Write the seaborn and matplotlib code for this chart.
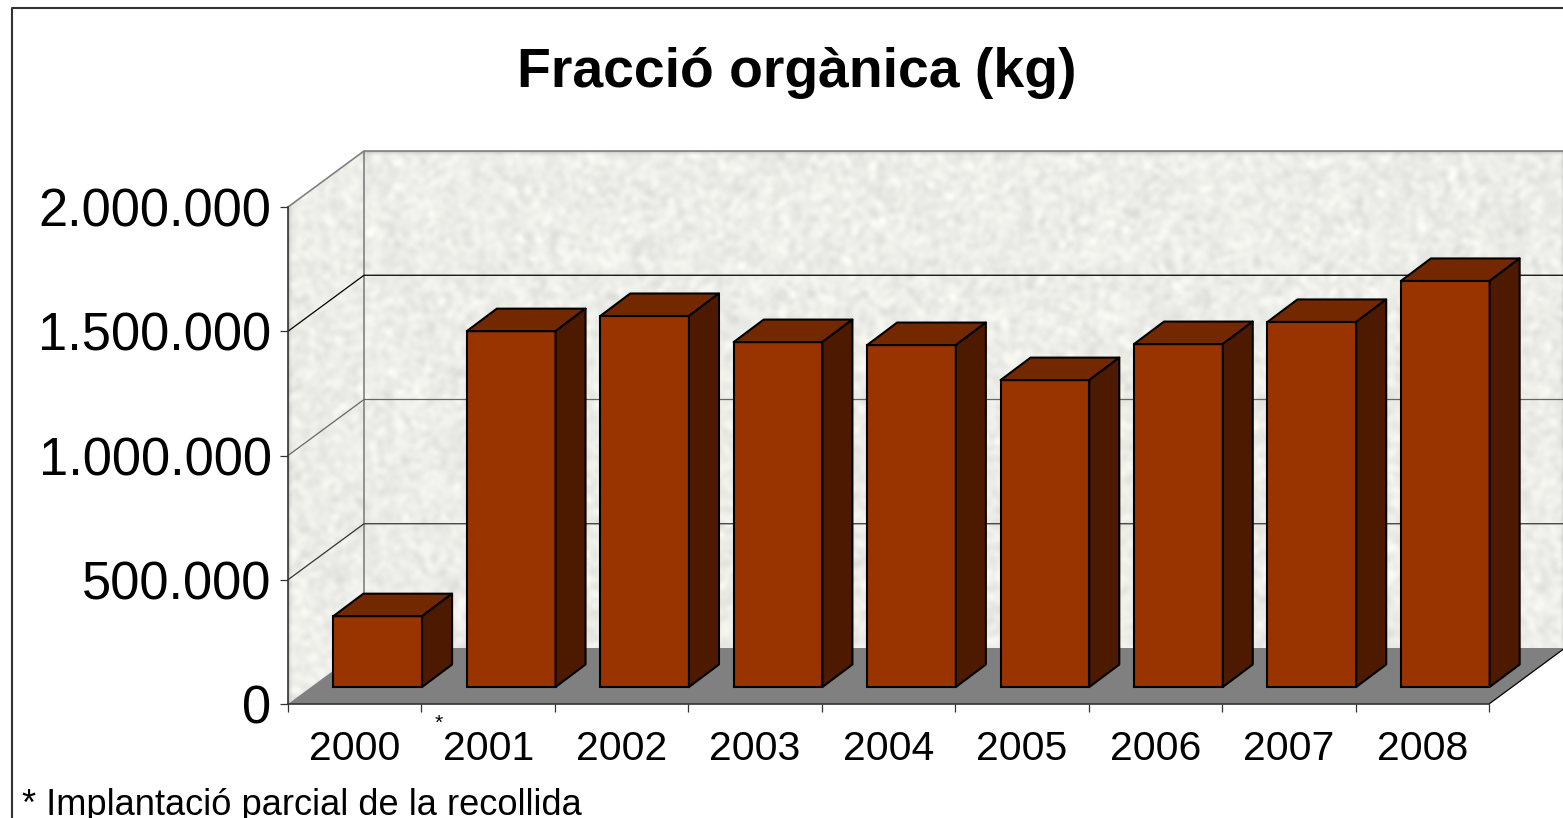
import numpy as np
import matplotlib
matplotlib.use("Agg")
import matplotlib.pyplot as plt
from matplotlib.patches import Polygon
from matplotlib.lines import Line2D
import seaborn as sns

years = ["2000", "2001", "2002", "2003", "2004", "2005", "2006", "2007", "2008"]
organic_kg = [285000, 1432000, 1493000, 1388000, 1376000, 1235000, 1380000, 1469000, 1634000]
y_ticks = [0, 500000, 1000000, 1500000, 2000000]
y_tick_labels = ["0", "500.000", "1.000.000", "1.500.000", "2.000.000"]
title = "Fracció orgànica (kg)"
footnote = "* Implantació parcial de la recollida"

W, H = 1563, 818
FRONT = "#993300"
TOP = "#732800"
SIDE = "#4D1A00"
FLOOR = "#808080"
WALL_EDGE = "#808080"
grid_colors = ["#333333", "#666666", "#000000"]

sns.set_style("white")
plt.rcParams["font.family"] = ["Liberation Sans", "DejaVu Sans"]

fig = plt.figure(figsize=(W / 100, H / 100), dpi=100, facecolor="white")
ax = fig.add_axes([288 / W, (H - 704) / H, (1489 - 288) / W, (704 - 207) / H])

sns.barplot(x=years, y=organic_kg, color=FRONT, saturation=1, width=0.665,
            edgecolor="black", linewidth=1.5, ax=ax, zorder=3)
ax.set_xlim(-0.5, 8.5)
ax.set_ylim(0, 2000000)

# pixel to data scale, used for the fake 3d depth
px_x = 9 / (1489 - 288)
px_y = 2000000 / (704 - 207)
wall_dx, wall_dy = 76 * px_x, 56 * px_y
shift_x, shift_y = 23 * px_x, 17 * px_y
bar_dx, bar_dy = 30 * px_x, 22.5 * px_y

x0, x1 = -0.5, 8.5
y_top = y_ticks[-1]

# wall grain, only a texture and not chart data
ny, nx = 560, 1290
yy, xx = np.mgrid[0:ny, 0:nx]
grain = np.sin(xx * 12.9898 + yy * 78.233) * 43758.5453
grain = grain - np.floor(grain)
for size in (7, 5, 3):
    kernel = np.ones(size) / size
    grain = np.apply_along_axis(lambda r: np.convolve(r, kernel, mode="same"), 1, grain)
    grain = np.apply_along_axis(lambda c: np.convolve(c, kernel, mode="same"), 0, grain)
grain = (grain - grain.mean()) / grain.std()
gray = np.clip(0.93 + 0.024 * grain, 0, 1)
texture = np.dstack([gray, gray, gray * 0.98])

wall_pts = [(x0, 0), (x0, y_top), (x0 + wall_dx, y_top + wall_dy), (x1 + wall_dx, y_top + wall_dy),
            (x1 + wall_dx, wall_dy), (x0 + wall_dx, wall_dy)]
img = ax.imshow(texture, aspect="auto", zorder=0,
                extent=(x0, x1 + wall_dx, 0, y_top + wall_dy), interpolation="bilinear")
img.set_clip_box(fig.bbox)
img.set_clip_path(Polygon(wall_pts, transform=ax.transData))
ax.set_xlim(x0, x1)
ax.set_ylim(0, y_top)

floor = Polygon([(x0, 0), (x1, 0), (x1 + wall_dx, wall_dy), (x0 + wall_dx, wall_dy)],
                facecolor=FLOOR, edgecolor="none", zorder=1, clip_on=False)
ax.add_patch(floor)
ax.plot([x1, x1 + wall_dx], [0, wall_dy], color="black", lw=0.9, zorder=1.5, clip_on=False)

ax.plot([x0, x0 + wall_dx, x1 + wall_dx], [y_top, y_top + wall_dy, y_top + wall_dy],
        color=WALL_EDGE, lw=1.2, zorder=1.5, clip_on=False)
ax.plot([x0 + wall_dx, x0 + wall_dx], [wall_dy, y_top + wall_dy],
        color=WALL_EDGE, lw=1.2, zorder=1.5, clip_on=False)
for v, c in zip(y_ticks[1:-1], grid_colors):
    ax.plot([x0, x0 + wall_dx, x1 + wall_dx], [v, v + wall_dy, v + wall_dy],
            color=c, lw=0.9, zorder=1.5, clip_on=False)

# move the seaborn bars onto the floor and add their top and side faces
for bar in list(ax.patches):
    if bar is floor:
        continue
    bar.set_x(bar.get_x() + shift_x)
    bar.set_y(shift_y)
    left = bar.get_x()
    right = left + bar.get_width()
    base = bar.get_y()
    top = base + bar.get_height()
    ax.add_patch(Polygon([(left, top), (right, top), (right + bar_dx, top + bar_dy), (left + bar_dx, top + bar_dy)],
                         facecolor=TOP, edgecolor="black", lw=1.5, zorder=3, clip_on=False, joinstyle="round"))
    ax.add_patch(Polygon([(right, base), (right + bar_dx, base + bar_dy), (right + bar_dx, top + bar_dy), (right, top)],
                         facecolor=SIDE, edgecolor="black", lw=1.5, zorder=3, clip_on=False, joinstyle="round"))

sns.despine(ax=ax, top=True, right=True)
for side in ["left", "bottom"]:
    ax.spines[side].set_color("#333333")
    ax.spines[side].set_linewidth(1.2)
    ax.spines[side].set_zorder(4)

ax.set_yticks(y_ticks)
ax.set_yticklabels(y_tick_labels)
ax.tick_params(axis="y", which="major", left=True, length=5.8, width=0.9, color="#333333",
               labelsize=37.8, pad=6, labelcolor="black")
ax.set_xticks(np.arange(0, 10) - 0.5)
ax.set_xticklabels([])
ax.tick_params(axis="x", which="major", bottom=True, length=5.8, width=0.9, color="#333333")
ax.set_xticks(np.arange(len(years)), minor=True)
ax.set_xticklabels(years, minor=True)
ax.tick_params(axis="x", which="minor", bottom=False, length=0, labelsize=29.5, pad=18.5, labelcolor="black")
ax.set_xlabel("")
ax.set_ylabel("")

fig.text(797 / W, 1 - 73 / H, title, ha="center", va="center", fontsize=39.9, fontweight="bold", color="black")
fig.text(22 / W, 1 - 815 / H, footnote, ha="left", va="baseline", fontsize=26.15, color="black")
fig.text(439 / W, 1 - 729 / H, "*", ha="center", va="baseline", fontsize=15, color="black")

# outer chart frame, open on the right and bottom edges of the crop
fig.add_artist(Line2D([12 / W, 12 / W, 1], [0, 1 - 8 / H, 1 - 8 / H], color="#333333", lw=1.5))

fig.savefig("out.png", dpi=100)
